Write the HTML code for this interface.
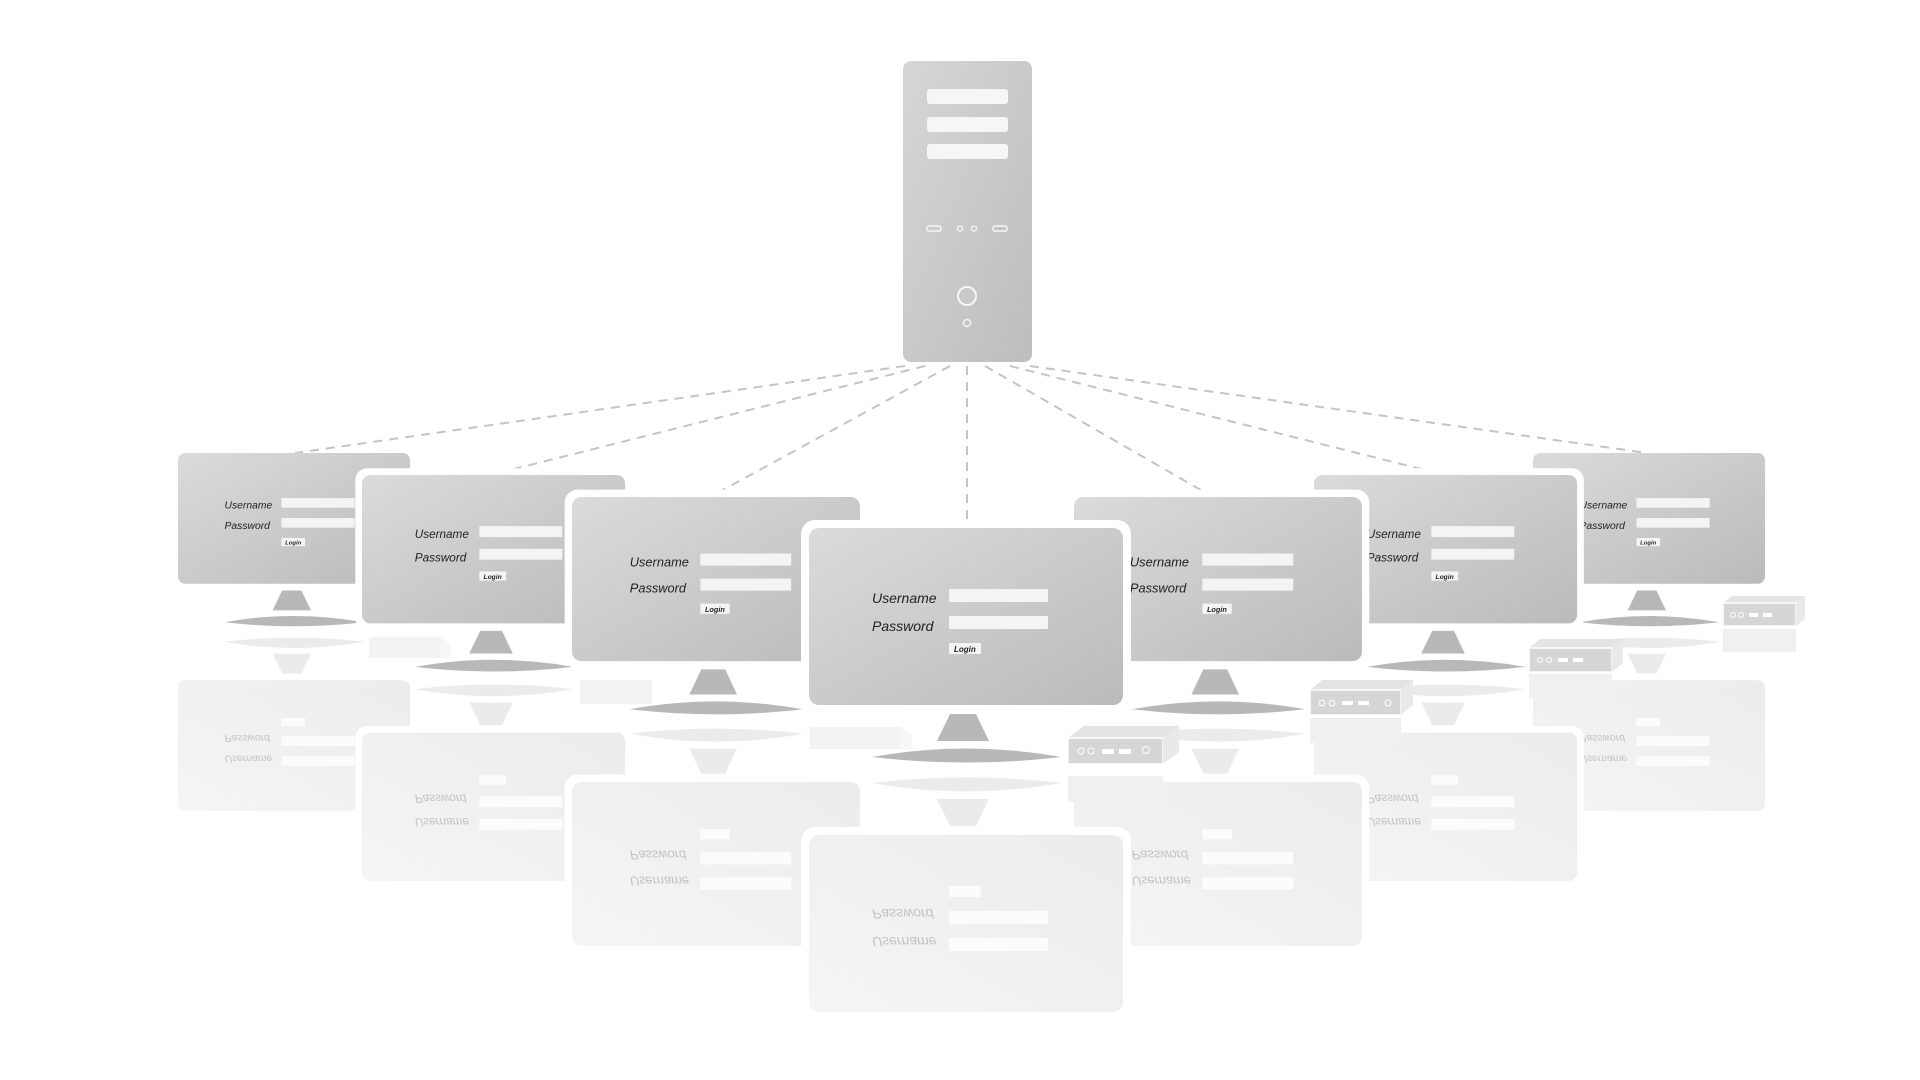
<!DOCTYPE html>
<html><head><meta charset="utf-8"><style>
html,body{margin:0;padding:0;background:#fff;overflow:hidden;}
svg{display:block;}
text{font-family:"Liberation Sans","DejaVu Sans",sans-serif;font-style:italic;}
</style></head><body>
<svg width="1920" height="1080" viewBox="0 0 1920 1080" xmlns="http://www.w3.org/2000/svg">
<defs>
<linearGradient id="scr" x1="0" y1="0" x2="1" y2="1">
<stop offset="0" stop-color="#dcdbdb"/><stop offset="1" stop-color="#bbbaba"/>
</linearGradient>
<linearGradient id="srv" x1="0" y1="0" x2="1" y2="1">
<stop offset="0" stop-color="#d6d6d6"/><stop offset="1" stop-color="#bdbdbd"/>
</linearGradient>
</defs>

<!-- Reflections -->
<g opacity="0.28">
<g transform="translate(178,811) scale(0.739,-0.739)">
<rect x="0" y="0" width="314" height="177" rx="10" fill="url(#scr)"/>
<polygon points="141,186 167,186 180,213 128,213" fill="#b8b8b8"/>
<path d="M63,229 Q157,212 252,229 Q157,240 63,229Z" fill="#b8b8b8"/>
<text x="63" y="75" font-size="14" fill="#222">Username</text><text x="63" y="103" font-size="14" fill="#222">Password</text>
<rect x="140" y="61" width="99" height="13" fill="#f4f4f4"/><rect x="140" y="88" width="99" height="13" fill="#f4f4f4"/>
<rect x="140" y="115" width="32" height="11" fill="#f4f4f4"/>
</g>
<g transform="translate(1533,811) scale(0.739,-0.739)">
<rect x="0" y="0" width="314" height="177" rx="10" fill="url(#scr)"/>
<polygon points="141,186 167,186 180,213 128,213" fill="#b8b8b8"/>
<path d="M63,229 Q157,212 252,229 Q157,240 63,229Z" fill="#b8b8b8"/>
<text x="63" y="75" font-size="14" fill="#222">Username</text><text x="63" y="103" font-size="14" fill="#222">Password</text>
<rect x="140" y="61" width="99" height="13" fill="#f4f4f4"/><rect x="140" y="88" width="99" height="13" fill="#f4f4f4"/>
<rect x="140" y="115" width="32" height="11" fill="#f4f4f4"/>
</g>
<g transform="translate(362,881) scale(0.838,-0.838)">
<rect x="-8" y="-8" width="330" height="193" rx="14" fill="#fff"/>
<rect x="0" y="0" width="314" height="177" rx="10" fill="url(#scr)"/>
<polygon points="141,186 167,186 180,213 128,213" fill="#b8b8b8"/>
<path d="M63,229 Q157,212 252,229 Q157,240 63,229Z" fill="#b8b8b8"/>
<text x="63" y="75" font-size="14" fill="#222">Username</text><text x="63" y="103" font-size="14" fill="#222">Password</text>
<rect x="140" y="61" width="99" height="13" fill="#f4f4f4"/><rect x="140" y="88" width="99" height="13" fill="#f4f4f4"/>
<rect x="140" y="115" width="32" height="11" fill="#f4f4f4"/>
</g>
<g transform="translate(1314,881) scale(0.838,-0.838)">
<rect x="-8" y="-8" width="330" height="193" rx="14" fill="#fff"/>
<rect x="0" y="0" width="314" height="177" rx="10" fill="url(#scr)"/>
<polygon points="141,186 167,186 180,213 128,213" fill="#b8b8b8"/>
<path d="M63,229 Q157,212 252,229 Q157,240 63,229Z" fill="#b8b8b8"/>
<text x="63" y="75" font-size="14" fill="#222">Username</text><text x="63" y="103" font-size="14" fill="#222">Password</text>
<rect x="140" y="61" width="99" height="13" fill="#f4f4f4"/><rect x="140" y="88" width="99" height="13" fill="#f4f4f4"/>
<rect x="140" y="115" width="32" height="11" fill="#f4f4f4"/>
</g>
<g transform="translate(572,946) scale(0.917,-0.927)">
<rect x="-8" y="-8" width="330" height="193" rx="14" fill="#fff"/>
<rect x="0" y="0" width="314" height="177" rx="10" fill="url(#scr)"/>
<polygon points="141,186 167,186 180,213 128,213" fill="#b8b8b8"/>
<path d="M63,229 Q157,212 252,229 Q157,240 63,229Z" fill="#b8b8b8"/>
<text x="63" y="75" font-size="14" fill="#222">Username</text><text x="63" y="103" font-size="14" fill="#222">Password</text>
<rect x="140" y="61" width="99" height="13" fill="#f4f4f4"/><rect x="140" y="88" width="99" height="13" fill="#f4f4f4"/>
<rect x="140" y="115" width="32" height="11" fill="#f4f4f4"/>
</g>
<g transform="translate(1074,946) scale(0.917,-0.927)">
<rect x="-8" y="-8" width="330" height="193" rx="14" fill="#fff"/>
<rect x="0" y="0" width="314" height="177" rx="10" fill="url(#scr)"/>
<polygon points="141,186 167,186 180,213 128,213" fill="#b8b8b8"/>
<path d="M63,229 Q157,212 252,229 Q157,240 63,229Z" fill="#b8b8b8"/>
<text x="63" y="75" font-size="14" fill="#222">Username</text><text x="63" y="103" font-size="14" fill="#222">Password</text>
<rect x="140" y="61" width="99" height="13" fill="#f4f4f4"/><rect x="140" y="88" width="99" height="13" fill="#f4f4f4"/>
<rect x="140" y="115" width="32" height="11" fill="#f4f4f4"/>
</g>
<g transform="translate(809,1012) scale(1,-1)">
<rect x="-8" y="-8" width="330" height="193" rx="14" fill="#fff"/>
<rect x="0" y="0" width="314" height="177" rx="10" fill="url(#scr)"/>
<polygon points="141,186 167,186 180,213 128,213" fill="#b8b8b8"/>
<path d="M63,229 Q157,212 252,229 Q157,240 63,229Z" fill="#b8b8b8"/>
<text x="63" y="75" font-size="14" fill="#222">Username</text><text x="63" y="103" font-size="14" fill="#222">Password</text>
<rect x="140" y="61" width="99" height="13" fill="#f4f4f4"/><rect x="140" y="88" width="99" height="13" fill="#f4f4f4"/>
<rect x="140" y="115" width="32" height="11" fill="#f4f4f4"/>
</g>
<!-- reflected mini pcs -->
<rect x="1068" y="776" width="95" height="26" fill="#c8c8c8"/>
<rect x="1310" y="718" width="91" height="25" fill="#c8c8c8"/>
<rect x="1529" y="674" width="83" height="24" fill="#c8c8c8"/>
<rect x="1723" y="629" width="73" height="23" fill="#c8c8c8"/>
</g>

<!-- dashed connectors -->
<g stroke="#c4c4c4" stroke-width="2" stroke-dasharray="9,7" fill="none">
<line x1="905" y1="366" x2="295" y2="453"/>
<line x1="925" y1="366" x2="490" y2="475"/>
<line x1="950" y1="366" x2="710" y2="497"/>
<line x1="967" y1="366" x2="967" y2="520"/>
<line x1="985" y1="366" x2="1213" y2="497"/>
<line x1="1010" y1="366" x2="1445" y2="475"/>
<line x1="1030" y1="366" x2="1647" y2="453"/>
</g>

<!-- server -->
<rect x="903" y="61" width="129" height="301" rx="8" fill="url(#srv)"/>
<rect x="927" y="89" width="81" height="15" rx="3" fill="#f6f6f6"/>
<rect x="927" y="117" width="81" height="15" rx="3" fill="#f6f6f6"/>
<rect x="927" y="144" width="81" height="15" rx="3" fill="#f6f6f6"/>
<rect x="927" y="226" width="14" height="5" rx="2" fill="none" stroke="#f6f6f6" stroke-width="1.5"/>
<rect x="993" y="226" width="14" height="5" rx="2" fill="none" stroke="#f6f6f6" stroke-width="1.5"/>
<circle cx="960" cy="228.5" r="2.5" fill="none" stroke="#f6f6f6" stroke-width="1.3"/>
<circle cx="974" cy="228.5" r="2.5" fill="none" stroke="#f6f6f6" stroke-width="1.3"/>
<circle cx="967" cy="296" r="9" fill="#c8c8c8" stroke="#f6f6f6" stroke-width="2"/>
<circle cx="967" cy="323" r="3.5" fill="none" stroke="#f6f6f6" stroke-width="1.5"/>

<!-- mini pcs (faded left) -->
<g opacity="0.35">
<rect x="369" y="637" width="72" height="21" fill="#dcdcdc"/><polygon points="441,637 451,645 451,658 441,658" fill="#e8e8e8"/>
<rect x="580" y="680" width="72" height="24" fill="#dcdcdc"/>
<rect x="810" y="727" width="90" height="22" fill="#dcdcdc"/><polygon points="900,727 912,735 912,749 900,749" fill="#e8e8e8"/>
</g>

<!-- monitor M1 -->
<g transform="translate(178,453) scale(0.739)">
<rect x="0" y="0" width="314" height="177" rx="10" fill="url(#scr)"/>
<polygon points="141,186 167,186 180,213 128,213" fill="#b8b8b8"/>
<path d="M63,229 Q157,212 252,229 Q157,240 63,229Z" fill="#b8b8b8"/>
<text x="63" y="75" font-size="14" fill="#222">Username</text><text x="63" y="103" font-size="14" fill="#222">Password</text>
<rect x="140" y="61" width="99" height="13" fill="#f4f4f4"/><rect x="140" y="88" width="99" height="13" fill="#f4f4f4"/>
<rect x="140" y="115" width="32" height="11" fill="#f4f4f4"/><text x="145" y="124" font-size="8" font-weight="bold" fill="#222">Login</text>
</g>
<!-- monitor M7 -->
<g transform="translate(1533,453) scale(0.739)">
<rect x="0" y="0" width="314" height="177" rx="10" fill="url(#scr)"/>
<polygon points="141,186 167,186 180,213 128,213" fill="#b8b8b8"/>
<path d="M63,229 Q157,212 252,229 Q157,240 63,229Z" fill="#b8b8b8"/>
<text x="63" y="75" font-size="14" fill="#222">Username</text><text x="63" y="103" font-size="14" fill="#222">Password</text>
<rect x="140" y="61" width="99" height="13" fill="#f4f4f4"/><rect x="140" y="88" width="99" height="13" fill="#f4f4f4"/>
<rect x="140" y="115" width="32" height="11" fill="#f4f4f4"/><text x="145" y="124" font-size="8" font-weight="bold" fill="#222">Login</text>
</g>
<!-- mini pc right far -->
<g>
<polygon points="1723,603 1732,596 1805,596 1796,603" fill="#e4e4e4"/>
<rect x="1723" y="603" width="73" height="23" fill="#d6d6d6" stroke="#fff" stroke-width="1.5"/>
<polygon points="1796,603 1805,596 1805,619 1796,626" fill="#e9e9e9"/>
<circle cx="1733" cy="615" r="2.5" fill="none" stroke="#fff"/><circle cx="1741" cy="615" r="2.5" fill="none" stroke="#fff"/>
<rect x="1749" y="613" width="9" height="4" fill="#fff"/><rect x="1763" y="613" width="9" height="4" fill="#fff"/>
</g>
<!-- monitor M2 -->
<g transform="translate(362,475) scale(0.838)">
<rect x="-8" y="-8" width="330" height="193" rx="14" fill="#fff"/>
<rect x="0" y="0" width="314" height="177" rx="10" fill="url(#scr)"/>
<polygon points="141,186 167,186 180,213 128,213" fill="#b8b8b8"/>
<path d="M63,229 Q157,212 252,229 Q157,240 63,229Z" fill="#b8b8b8"/>
<text x="63" y="75" font-size="14" fill="#222">Username</text><text x="63" y="103" font-size="14" fill="#222">Password</text>
<rect x="140" y="61" width="99" height="13" fill="#f4f4f4"/><rect x="140" y="88" width="99" height="13" fill="#f4f4f4"/>
<rect x="140" y="115" width="32" height="11" fill="#f4f4f4"/><text x="145" y="124" font-size="8" font-weight="bold" fill="#222">Login</text>
</g>
<!-- monitor M6 -->
<g transform="translate(1314,475) scale(0.838)">
<rect x="-8" y="-8" width="330" height="193" rx="14" fill="#fff"/>
<rect x="0" y="0" width="314" height="177" rx="10" fill="url(#scr)"/>
<polygon points="141,186 167,186 180,213 128,213" fill="#b8b8b8"/>
<path d="M63,229 Q157,212 252,229 Q157,240 63,229Z" fill="#b8b8b8"/>
<text x="63" y="75" font-size="14" fill="#222">Username</text><text x="63" y="103" font-size="14" fill="#222">Password</text>
<rect x="140" y="61" width="99" height="13" fill="#f4f4f4"/><rect x="140" y="88" width="99" height="13" fill="#f4f4f4"/>
<rect x="140" y="115" width="32" height="11" fill="#f4f4f4"/><text x="145" y="124" font-size="8" font-weight="bold" fill="#222">Login</text>
</g>
<!-- mini pc right 2 -->
<g>
<polygon points="1529,648 1540,639 1623,639 1612,648" fill="#e4e4e4"/>
<rect x="1529" y="648" width="83" height="24" fill="#d6d6d6" stroke="#fff" stroke-width="1.5"/>
<polygon points="1612,648 1623,639 1623,663 1612,672" fill="#e9e9e9"/>
<circle cx="1540" cy="660" r="2.5" fill="none" stroke="#fff"/><circle cx="1549" cy="660" r="2.5" fill="none" stroke="#fff"/>
<rect x="1558" y="658" width="10" height="4" fill="#fff"/><rect x="1573" y="658" width="10" height="4" fill="#fff"/>
</g>
<!-- monitor M3 -->
<g transform="translate(572,497) scale(0.917,0.927)">
<rect x="-8" y="-8" width="330" height="193" rx="14" fill="#fff"/>
<rect x="0" y="0" width="314" height="177" rx="10" fill="url(#scr)"/>
<polygon points="141,186 167,186 180,213 128,213" fill="#b8b8b8"/>
<path d="M63,229 Q157,212 252,229 Q157,240 63,229Z" fill="#b8b8b8"/>
<text x="63" y="75" font-size="14" fill="#222">Username</text><text x="63" y="103" font-size="14" fill="#222">Password</text>
<rect x="140" y="61" width="99" height="13" fill="#f4f4f4"/><rect x="140" y="88" width="99" height="13" fill="#f4f4f4"/>
<rect x="140" y="115" width="32" height="11" fill="#f4f4f4"/><text x="145" y="124" font-size="8" font-weight="bold" fill="#222">Login</text>
</g>
<!-- mini pc right 3 -->
<g>
<polygon points="1310,690 1322,680 1413,680 1401,690" fill="#e4e4e4"/>
<rect x="1310" y="690" width="91" height="25" fill="#d6d6d6" stroke="#fff" stroke-width="1.5"/>
<polygon points="1401,690 1413,680 1413,705 1401,715" fill="#e9e9e9"/>
<circle cx="1322" cy="703" r="2.8" fill="none" stroke="#fff"/><circle cx="1332" cy="703" r="2.8" fill="none" stroke="#fff"/>
<rect x="1342" y="701" width="11" height="4" fill="#fff"/><rect x="1358" y="701" width="11" height="4" fill="#fff"/>
<circle cx="1388" cy="703" r="3" fill="none" stroke="#fff"/>
</g>
<!-- monitor M5 -->
<g transform="translate(1074,497) scale(0.917,0.927)">
<rect x="-8" y="-8" width="330" height="193" rx="14" fill="#fff"/>
<rect x="0" y="0" width="314" height="177" rx="10" fill="url(#scr)"/>
<polygon points="141,186 167,186 180,213 128,213" fill="#b8b8b8"/>
<path d="M63,229 Q157,212 252,229 Q157,240 63,229Z" fill="#b8b8b8"/>
<text x="61" y="75" font-size="14" fill="#222">Username</text><text x="61" y="103" font-size="14" fill="#222">Password</text>
<rect x="140" y="61" width="99" height="13" fill="#f4f4f4"/><rect x="140" y="88" width="99" height="13" fill="#f4f4f4"/>
<rect x="140" y="115" width="32" height="11" fill="#f4f4f4"/><text x="145" y="124" font-size="8" font-weight="bold" fill="#222">Login</text>
</g>
<!-- mini pc front -->
<g>
<polygon points="1068,738 1084,726 1179,726 1163,738" fill="#e4e4e4"/>
<rect x="1068" y="738" width="95" height="26" fill="#d6d6d6" stroke="#fff" stroke-width="1.5"/>
<polygon points="1163,738 1179,726 1179,752 1163,764" fill="#e9e9e9"/>
<circle cx="1081" cy="751" r="3" fill="none" stroke="#fff"/><circle cx="1091" cy="751" r="3" fill="none" stroke="#fff"/>
<rect x="1102" y="749" width="12" height="5" fill="#fff"/><rect x="1119" y="749" width="12" height="5" fill="#fff"/>
<circle cx="1146" cy="750" r="3.5" fill="none" stroke="#fff"/>
</g>
<!-- monitor center -->
<g transform="translate(809,528)">
<rect x="-8" y="-8" width="330" height="193" rx="14" fill="#fff"/>
<rect x="0" y="0" width="314" height="177" rx="10" fill="url(#scr)"/>
<polygon points="141,186 167,186 180,213 128,213" fill="#b8b8b8"/>
<path d="M63,229 Q157,212 252,229 Q157,240 63,229Z" fill="#b8b8b8"/>
<text x="63" y="75" font-size="14" fill="#222">Username</text><text x="63" y="103" font-size="14" fill="#222">Password</text>
<rect x="140" y="61" width="99" height="13" fill="#f4f4f4"/><rect x="140" y="88" width="99" height="13" fill="#f4f4f4"/>
<rect x="140" y="115" width="32" height="11" fill="#f4f4f4"/><text x="145" y="124" font-size="8" font-weight="bold" fill="#222">Login</text>
</g>
</svg>
</body></html>
